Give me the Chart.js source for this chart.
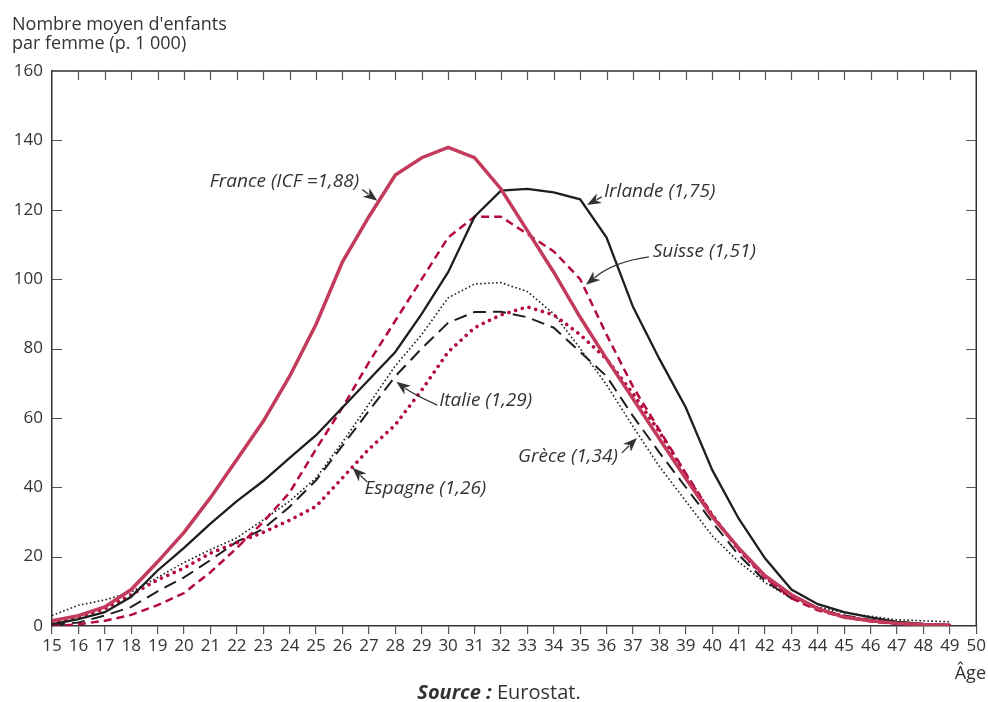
<!DOCTYPE html>
<html><head><meta charset="utf-8">
<script src="https://cdn.jsdelivr.net/npm/chart.js@4.4.1/dist/chart.umd.min.js"></script>
<style>html,body{margin:0;padding:0;background:#fff;}canvas{display:block}</style>
</head><body>
<canvas id="c" width="988" height="702"></canvas>
<script>
const ages = [15,16,17,18,19,20,21,22,23,24,25,26,27,28,29,30,31,32,33,34,35,36,37,38,39,40,41,42,43,44,45,46,47,48,49];
const france  = [1.5,3,5.5,10.5,18.5,27,37,48,59,72,87,105,118,130,135,138,135,126,114,102,89,77,65.5,54,42.5,31.5,22.5,14.5,9,5,2.5,1.5,0.8,0.4,0.2];
const irlande = [0.5,2,4,8.4,16,22.5,29.5,36,41.8,48.5,55,63,71,79,90,102,118,125.5,126,125,123,112,92,77,63,45,31,19.5,10.5,6.3,4,2.5,1.2,0.6,0.3];
const suisse  = [0,0.5,1.5,3.2,6,9.5,15.5,22.5,30,38.5,51,63,76,88,100,112,118,118,113,108,100,84,69,56.5,44,32,22,14,8,4.5,2.5,1.3,0.6,0.3,0.1];
const italie  = [0.3,1,3,5.5,10,14,19,24.3,28,34.4,42,52,62,72,80,87.4,90.5,90.6,89,86,79,72,60.5,50,40,30,20.5,13,8,5,3,1.8,1.2,0.6,0.3];
const grece   = [3,6,7.5,9.8,14,18.3,22,25.4,30.6,36,42.7,53,64,75,84,94.6,98.6,99,96.4,90,80,69.5,57.5,46,36,26,18.5,12.5,8,5.5,3.8,2.8,1.8,1.5,1.2];
const espagne = [1,2.5,5,9,13.3,16.7,21,24,27,30.5,34.5,42.7,51,58,68,79,86,89.7,92,89.7,84,77,67,56,43.5,32,22,14,8.5,5,2.8,1.5,0.8,0.4,0.2];

const xTicks = [15,16,17,18,19,20,21,22,23,24,25,26,27,28,29,30,31,32,33,34,35,36,37,38,39,40,41,42,43,44,45,46,47,48,49,50];
const yTicks = [0,20,40,60,80,100,120,140,160];

const yTitle = ["Nombre moyen d'enfants", "par femme (p. 1 000)"];
const xTitle = "Âge";
const sourceBold = "Source :";
const sourceText = " Eurostat.";

// annotation labels: text anchor (age, value) and arrow (age, value) points
const labels = [
  {text:'France (ICF =1,88)', at:[20.97,128.0], from:[26.75,125.8], to:[27.32,122.6]},
  {text:'Irlande (1,75)',     at:[35.90,125.2], from:[35.82,123.7], to:[35.26,121.4]},
  {text:'Suisse (1,51)',      at:[37.75,107.9], from:[37.60,106.4], via:[36.28,105.0], to:[35.22,98.4]},
  {text:'Italie (1,29)',      at:[29.66,64.9],  from:[29.59,63.7],  via:[28.72,66.6],  to:[28.04,70.4]},
  {text:'Grèce (1,34)',       at:[32.65,48.7],  from:[36.58,49.9],  to:[37.15,54.2]},
  {text:'Espagne (1,26)',     at:[26.83,39.5],  from:[26.94,41.5],  to:[26.38,45.6]}
];

const FONT = "'Open Sans', 'Noto Sans', sans-serif";
const INK = '#333333';
const pts = arr => ages.map((a,i)=>({x:a, y:arr[i]}));

const framePlugin = {
  id:'frame',
  afterDatasetsDraw(chart){
    const ctx = chart.ctx, a = chart.chartArea, xs = chart.scales.x, ys = chart.scales.y;
    ctx.save();
    ctx.strokeStyle = INK; ctx.lineWidth = 1.5;
    ctx.beginPath();
    ctx.moveTo(a.left, a.top); ctx.lineTo(a.right, a.top); ctx.lineTo(a.right, a.bottom);
    ctx.stroke();
    ctx.lineWidth = 1.2; ctx.strokeStyle = '#555';
    ctx.beginPath();
    xTicks.forEach(v=>{ if(v>15 && v<50){ const px = Math.round(xs.getPixelForValue(v))+0.5; ctx.moveTo(px,a.top); ctx.lineTo(px,a.top+9);} });
    yTicks.forEach(v=>{ if(v>0 && v<160){ const py = Math.round(ys.getPixelForValue(v))+0.5;
      ctx.moveTo(a.left,py); ctx.lineTo(a.left+10,py); ctx.moveTo(a.right,py); ctx.lineTo(a.right-10,py);} });
    ctx.stroke();
    ctx.restore();
  },
  afterDraw(chart){
    const ctx = chart.ctx, xs = chart.scales.x, ys = chart.scales.y;
    ctx.save();
    ctx.fillStyle = INK; ctx.strokeStyle = INK;
    // annotations
    ctx.font = "italic 19px " + FONT;
    ctx.textBaseline = 'middle'; ctx.textAlign = 'left';
    labels.forEach(l=>{
      ctx.fillText(l.text, xs.getPixelForValue(l.at[0]), ys.getPixelForValue(l.at[1]));
      const P = p => [xs.getPixelForValue(p[0]), ys.getPixelForValue(p[1])];
      const f = P(l.from), t = P(l.to), v = l.via ? P(l.via) : null;
      const d = v ? [t[0]-v[0], t[1]-v[1]] : [t[0]-f[0], t[1]-f[1]];
      const len = Math.hypot(d[0], d[1]); const ux = d[0]/len, uy = d[1]/len;
      const hl = 14, hw = 5.5;
      const b = [t[0]-ux*hl, t[1]-uy*hl];
      ctx.lineWidth = 1.3;
      ctx.beginPath(); ctx.moveTo(f[0], f[1]);
      if (v) ctx.quadraticCurveTo(v[0], v[1], b[0]+ux*3, b[1]+uy*3); else ctx.lineTo(b[0]+ux*3, b[1]+uy*3);
      ctx.stroke();
      ctx.beginPath();
      ctx.moveTo(t[0], t[1]);
      ctx.lineTo(b[0]-uy*hw, b[1]+ux*hw);
      ctx.lineTo(b[0]+ux*4, b[1]+uy*4);
      ctx.lineTo(b[0]+uy*hw, b[1]-ux*hw);
      ctx.closePath(); ctx.fill();
    });
    // y title
    ctx.textBaseline = 'alphabetic';
    ctx.font = "18px " + FONT;
    ctx.fillText(yTitle[0], 12, 30);
    ctx.fillText(yTitle[1], 12, 49);
    // x title
    ctx.textAlign = 'right';
    ctx.fillText(xTitle, 986, 679);
    // source
    ctx.textAlign = 'left';
    ctx.font = "italic bold 20px " + FONT;
    const w1 = ctx.measureText(sourceBold).width;
    ctx.font = "20px " + FONT;
    const w2 = ctx.measureText(sourceText).width;
    const sx = 499 - (w1+w2)/2;
    ctx.font = "italic bold 20px " + FONT;
    ctx.fillText(sourceBold, sx, 699);
    ctx.font = "20px " + FONT;
    ctx.fillText(sourceText, sx+w1, 699);
    ctx.restore();
  }
};

const RED = '#c23a5c', DEEP = '#b3093f', BLK = '#1e1e1e';
new Chart(document.getElementById('c'), {
  type:'line',
  data:{ datasets:[
    {label:'France', data:pts(france), borderColor:RED, borderWidth:3.5},
    {label:'Irlande', data:pts(irlande), borderColor:BLK, borderWidth:2.3},
    {label:'Suisse', data:pts(suisse), borderColor:DEEP, borderWidth:2.5, borderDash:[8,5]},
    {label:'Espagne', data:pts(espagne), borderColor:DEEP, borderWidth:3.6, borderDash:[0.001,7], borderCapStyle:'round'},
    {label:'Italie', data:pts(italie), borderColor:BLK, borderWidth:2, borderDash:[13,7]},
    {label:'Grèce', data:pts(grece), borderColor:BLK, borderWidth:1.6, borderDash:[1.6,2.4]}
  ]},
  options:{
    responsive:false, animation:false, devicePixelRatio:1,
    layout:{padding:{top:71, right:10, left:0, bottom:0}},
    elements:{point:{radius:0}, line:{tension:0, fill:false}},
    plugins:{legend:{display:false}, tooltip:{enabled:false}, title:{display:false}},
    scales:{
      x:{type:'linear', min:15, max:50,
        afterBuildTicks: s => { s.ticks = xTicks.map(v=>({value:v})); },
        afterFit: s => { s.height = 76; },
        grid:{display:true, drawOnChartArea:false, drawTicks:true, tickLength:8, color:'#555', lineWidth:1.2},
        border:{display:true, color:INK, width:1.5},
        ticks:{color:INK, font:{family:FONT, size:17}, padding:2, autoSkip:false, maxRotation:0}
      },
      y:{type:'linear', min:0, max:160,
        afterBuildTicks: s => { s.ticks = yTicks.map(v=>({value:v})); },
        afterFit: s => { s.width = 52; },
        grid:{display:false, drawTicks:false},
        border:{display:true, color:INK, width:1.5},
        ticks:{color:INK, font:{family:FONT, size:17}, padding:9}
      }
    }
  },
  plugins:[framePlugin]
});
</script>
</body></html>
